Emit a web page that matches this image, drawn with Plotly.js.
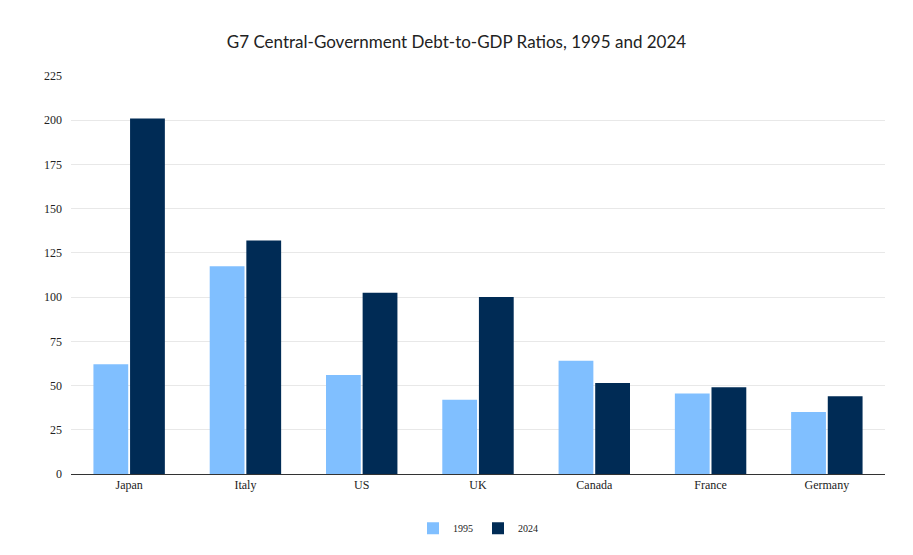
<!DOCTYPE html>
<html>
<head>
<script src="https://cdn.plot.ly/plotly-3.0.1.min.js"></script>
<style>body{margin:0}</style>
</head>
<body>
<div id="chart" style="width:913px;height:555px"></div>
<script>
const countries = ["Japan", "Italy", "US", "UK", "Canada", "France", "Germany"];
const debt1995 = [62, 117.5, 56, 42, 64, 45.5, 35];
const debt2024 = [201, 132, 102.5, 100, 51.5, 49, 44];

const traces = [
  {name: "1995", x: countries, y: debt1995, type: "bar", marker: {color: "#80bfff"}},
  {name: "2024", x: countries, y: debt2024, type: "bar", marker: {color: "#002b55"}}
];

const layout = {
  title: {text: "G7 Central-Government Debt-to-GDP Ratios, 1995 and 2024", font: {family: "Lato", size: 17, color: "#222"}, x: 0.5, y: 0.935},
  barmode: "group",
  bargap: 0.37,
  bargroupgap: 0.05,
  margin: {l: 71, r: 28, t: 76, b: 79 - 12},
  paper_bgcolor: "#fff",
  plot_bgcolor: "#fff",
  font: {family: "Liberation Serif", size: 11, color: "#222"},
  xaxis: {showline: true, linecolor: "#333", ticks: "", tickfont: {size: 12}},
  yaxis: {range: [0, 225], dtick: 25, gridcolor: "#e8e8e8", zeroline: false, ticks: "", ticklabelstandoff: 8, tickfont: {size: 12}},
  legend: {orientation: "h", x: 0.5, xanchor: "center", y: -0.1, font: {size: 10}},
  showlegend: true
};

Plotly.newPlot("chart", traces, layout, {displayModeBar: false});
</script>
</body>
</html>
